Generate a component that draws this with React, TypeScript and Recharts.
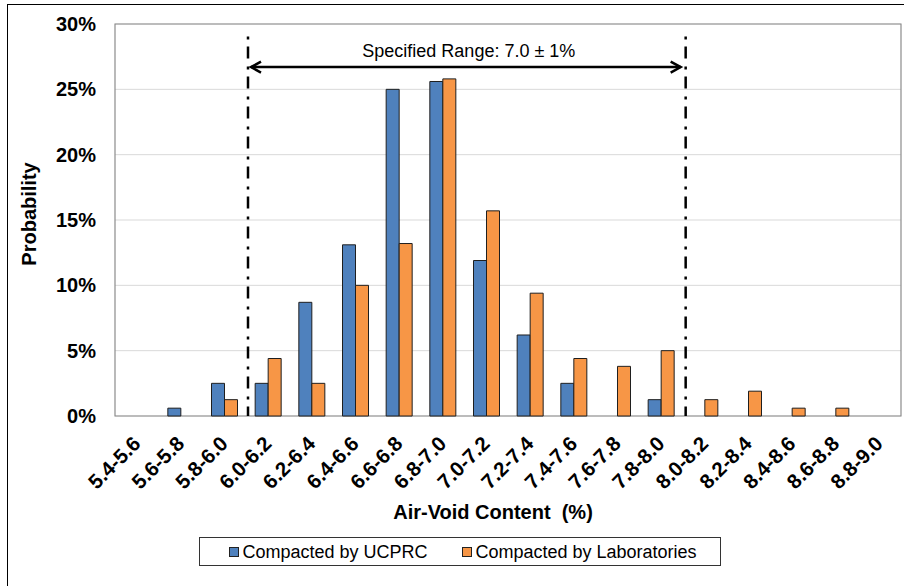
import React from 'react';
import { BarChart, Bar, XAxis, YAxis, CartesianGrid, ReferenceArea, Legend } from 'recharts';

const categories = [
  '5.4-5.6', '5.6-5.8', '5.8-6.0', '6.0-6.2', '6.2-6.4', '6.4-6.6', '6.6-6.8', '6.8-7.0', '7.0-7.2',
  '7.2-7.4', '7.4-7.6', '7.6-7.8', '7.8-8.0', '8.0-8.2', '8.2-8.4', '8.4-8.6', '8.6-8.8', '8.8-9.0',
];
const ucprc = [0, 0.6, 2.5, 2.5, 8.7, 13.1, 25.0, 25.6, 11.9, 6.2, 2.5, 0, 1.25, 0, 0, 0, 0, 0];
const laboratories = [0, 0, 1.25, 4.4, 2.5, 10.0, 13.2, 25.8, 15.7, 9.4, 4.4, 3.8, 5.0, 1.25, 1.9, 0.6, 0.6, 0];
const yTicks = [0, 5, 10, 15, 20, 25, 30];
const seriesOrder = ['ucprc', 'labs'];
const seriesNames: Record<string, string> = { ucprc: 'Compacted by UCPRC', labs: 'Compacted by Laboratories' };
const seriesColors: Record<string, string> = { ucprc: '#4f81bd', labs: '#f79646' };
const rangeStart = '6.0-6.2';
const rangeEnd = '7.8-8.0';
const rangeTop = 29.05;
const arrowLevel = 26.7;
const rangeLabel = 'Specified Range: 7.0 ± 1%';
const xTitle = 'Air-Void Content  (%)';
const yTitle = 'Probability';

const data = categories.map((c, i) => ({ category: c, ucprc: ucprc[i], labs: laboratories[i] }));

const FONT = "'Liberation Sans', Arial, Helvetica, sans-serif";

const XTick = (props: any) => {
  const { x, y, payload } = props;
  const tx = x + 5;
  const ty = y + 29;
  return (
    <text
      x={tx}
      y={ty}
      transform={`rotate(-45 ${tx} ${ty})`}
      textAnchor="end"
      fontSize={20.5}
      fontWeight={700}
      fill="#000"
      fontFamily={FONT}
    >
      {payload.value}
    </text>
  );
};

const YTick = (props: any) => {
  const { x, y, payload } = props;
  return (
    <text x={x} y={y} dy="0.355em" textAnchor="end" fontSize={20} fontWeight={700} fill="#000" fontFamily={FONT}>
      {`${payload.value}%`}
    </text>
  );
};

const RangeShape = (props: any) => {
  const { x, y, width, height } = props;
  const xl = x + 2;
  const xr = x + width + 3;
  const ya = y + height * (1 - arrowLevel / rangeTop);
  const a1 = xl + 2;
  const a2 = xr - 4;
  return (
    <g>
      <line x1={xl} y1={y} x2={xl} y2={y + height} stroke="#000" strokeWidth={2.5} strokeDasharray="3 7 12 8" />
      <line x1={xr} y1={y} x2={xr} y2={y + height} stroke="#000" strokeWidth={2.5} strokeDasharray="3 7 12 8" />
      <line x1={a1 + 1} y1={ya} x2={a2 - 1} y2={ya} stroke="#000" strokeWidth={2.5} />
      <polyline points={`${a1 + 11},${ya - 5.5} ${a1 + 1},${ya} ${a1 + 11},${ya + 5.5}`} fill="none" stroke="#000" strokeWidth={2.5} />
      <polyline points={`${a2 - 11},${ya - 5.5} ${a2 - 1},${ya} ${a2 - 11},${ya + 5.5}`} fill="none" stroke="#000" strokeWidth={2.5} />
      <text x={(a1 + a2) / 2 + 3} y={ya - 10.5} textAnchor="middle" fontSize={18} fill="#000" fontFamily={FONT}>
        {rangeLabel}
      </text>
    </g>
  );
};

const LegendContent = (props: any) => {
  const { payload = [] } = props;
  const items = seriesOrder
    .map((k) => payload.find((e: any) => String(e.dataKey) === k))
    .filter(Boolean);
  return (
    <div
      style={{
        boxSizing: 'border-box',
        width: 522,
        height: 29,
        border: '1px solid #333',
        display: 'flex',
        alignItems: 'center',
        justifyContent: 'center',
        gap: 35,
        background: '#fff',
        fontFamily: FONT,
        paddingLeft: 6,
      }}
    >
      {items.map((e: any) => (
        <div key={String(e.dataKey)} style={{ display: 'flex', alignItems: 'center' }}>
          <span
            style={{
              display: 'inline-block',
              width: 10,
              height: 10,
              boxSizing: 'border-box',
              background: seriesColors[String(e.dataKey)],
              border: '1px solid #222',
              marginRight: 3,
            }}
          />
          <span style={{ fontSize: 18, color: '#000', lineHeight: '20px' }}>{e.value}</span>
        </div>
      ))}
    </div>
  );
};

export default function App() {
  return (
    <div
      style={{
        position: 'fixed',
        left: 0,
        top: 0,
        width: 904,
        height: 586,
        overflow: 'hidden',
        background: '#fff',
        fontFamily: FONT,
      }}
    >
      <div style={{ position: 'absolute', left: 0, top: 0 }}>
        <BarChart
          width={904}
          height={586}
          data={data}
          margin={{ top: 24, left: 0, right: 3, bottom: 0 }}
          barCategoryGap="21%"
          barGap={0}
        >
          <CartesianGrid vertical={false} stroke="#d9d9d9" strokeWidth={1} />
          <XAxis
            dataKey="category"
            height={170}
            interval={0}
            tickSize={0}
            tickMargin={0}
            tickLine={false}
            axisLine={false}
            tick={<XTick />}
            label={{
              content: (p: any) => {
                const vb = p.viewBox || {};
                return (
                  <text
                    x={vb.x + vb.width / 2 - 15}
                    y={vb.y + 103}
                    textAnchor="middle"
                    fontSize={20}
                    fontWeight={700}
                    fill="#000"
                    fontFamily={FONT}
                    style={{ whiteSpace: 'pre' }}
                  >
                    {xTitle}
                  </text>
                );
              },
            }}
          />
          <YAxis
            width={115}
            domain={[0, 30]}
            ticks={yTicks}
            tickSize={0}
            tickMargin={19}
            tickLine={false}
            axisLine={false}
            tick={<YTick />}
            label={{
              content: (p: any) => {
                const vb = p.viewBox || {};
                const lx = vb.x + vb.width - 79;
                const ly = vb.y + vb.height / 2 - 6;
                return (
                  <text
                    x={lx}
                    y={ly}
                    transform={`rotate(-90 ${lx} ${ly})`}
                    textAnchor="middle"
                    fontSize={20}
                    fontWeight={700}
                    fill="#000"
                    fontFamily={FONT}
                  >
                    {yTitle}
                  </text>
                );
              },
            }}
          />
          <Bar dataKey="ucprc" name={seriesNames.ucprc} fill={seriesColors.ucprc} stroke="#1f1f1f" strokeWidth={1} isAnimationActive={false} />
          <Bar dataKey="labs" name={seriesNames.labs} fill={seriesColors.labs} stroke="#1f1f1f" strokeWidth={1} isAnimationActive={false} />
          <ReferenceArea y1={0} y2={30} fill="none" stroke="#8c8c8c" strokeWidth={1.2} ifOverflow="visible" />
          <ReferenceArea x1={rangeStart} x2={rangeEnd} y1={0} y2={rangeTop} shape={<RangeShape />} ifOverflow="visible" />
          <Legend
            layout="horizontal"
            verticalAlign="middle"
            align="center"
            content={<LegendContent />}
            wrapperStyle={{ position: 'absolute', left: 199, top: 537, width: 522, height: 29 }}
          />
        </BarChart>
      </div>
      <div
        style={{
          position: 'absolute',
          left: 7,
          top: 4,
          width: 1200,
          height: 1200,
          borderTop: '1.5px solid #000',
          borderLeft: '1.5px solid #000',
          boxSizing: 'border-box',
          pointerEvents: 'none',
          zIndex: 5,
        }}
      />
    </div>
  );
}
